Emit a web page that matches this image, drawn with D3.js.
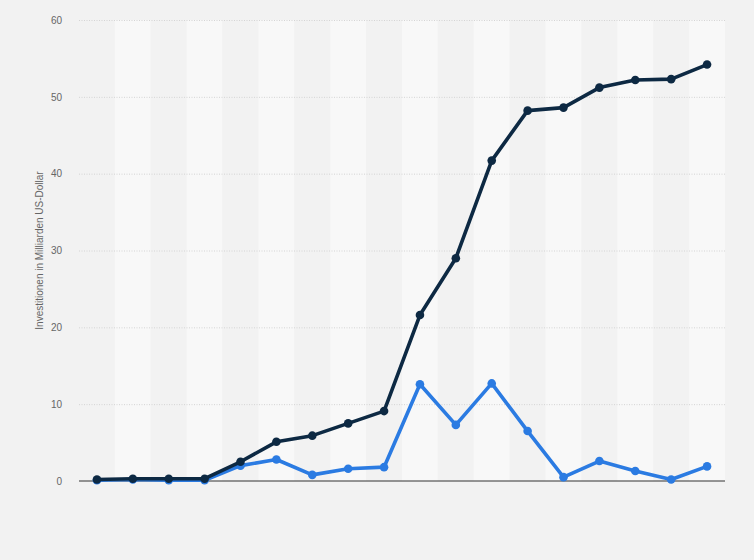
<!DOCTYPE html>
<html><head><meta charset="utf-8">
<script src="https://cdn.jsdelivr.net/npm/d3@7"></script>
<style>
html,body{margin:0;padding:0;background:#f2f2f2;}
svg{display:block;font-family:Arial,"Liberation Sans",sans-serif;}
</style></head>
<body><svg id="c" width="754" height="560"></svg>
<script>
const categories = ["2001","2002","2003","2004","2005","2006","2007","2008","2009","2010","2011","2012","2013","2014","2015","2016","2017","2018"];
const seriesTotal = [0.2,0.3,0.3,0.3,2.5,5.1,5.9,7.5,9.1,21.6,29.0,41.7,48.2,48.6,51.2,52.2,52.3,54.2];
const seriesAnnual = [0.1,0.2,0.1,0.1,2.0,2.8,0.8,1.6,1.8,12.6,7.3,12.7,6.5,0.5,2.6,1.3,0.2,1.9];
const yTicks = [0,10,20,30,40,50,60];
const yLabel = "Investitionen in Milliarden US-Dollar";

const svg = d3.select("#c");
const W = 754, H = 560;
const m = {left:79, right:29, top:20, bottom:79};
const iw = W - m.left - m.right, ih = H - m.top - m.bottom;

svg.append("rect").attr("width",W).attr("height",H).attr("fill","#f2f2f2");
const g = svg.append("g").attr("transform",`translate(${m.left},${m.top})`);

const x = d3.scaleBand().domain(categories).range([0,iw]).padding(0);
const y = d3.scaleLinear().domain([0,60]).range([ih,0]);

g.selectAll("rect.band").data(categories).enter().append("rect")
  .attr("class","band")
  .attr("x",d=>x(d)).attr("y",0)
  .attr("width",x.bandwidth()).attr("height",ih)
  .attr("fill",(d,i)=> i%2===1 ? "#f8f8f8" : "#f2f2f2");

const yAxis = d3.axisLeft(y).tickValues(yTicks).tickSize(-iw).tickPadding(17);
const ga = g.append("g").call(yAxis);
ga.select(".domain").remove();
ga.selectAll(".tick line").attr("stroke","#d4d4d4").attr("stroke-dasharray","1,1.5").attr("stroke-width",1);
ga.selectAll(".tick text").attr("fill","#666").attr("font-size","10px");
ga.selectAll(".tick").filter(d=>d===0).select("line").remove();

g.append("line").attr("x1",0).attr("x2",iw).attr("y1",y(0)).attr("y2",y(0))
  .attr("stroke","#333").attr("stroke-width",1);

svg.append("text")
  .attr("transform",`translate(43,${m.top+ih/2}) rotate(-90)`)
  .attr("text-anchor","middle").attr("fill","#666").attr("font-size","10px")
  .text(yLabel);

const cx = d => x(d) + x.bandwidth()/2;
const line = d3.line().x((d,i)=>cx(categories[i])).y(d=>y(d));

function drawSeries(vals,color){
  g.append("path").datum(vals).attr("d",line)
    .attr("fill","none").attr("stroke",color).attr("stroke-width",3.6)
    .attr("stroke-linejoin","round");
  g.selectAll(null).data(vals).enter().append("circle")
    .attr("cx",(d,i)=>cx(categories[i])).attr("cy",d=>y(d)).attr("r",4.3)
    .attr("fill",color);
}
drawSeries(seriesAnnual,"#2b7be2");
drawSeries(seriesTotal,"#0d2943");
</script></body></html>
